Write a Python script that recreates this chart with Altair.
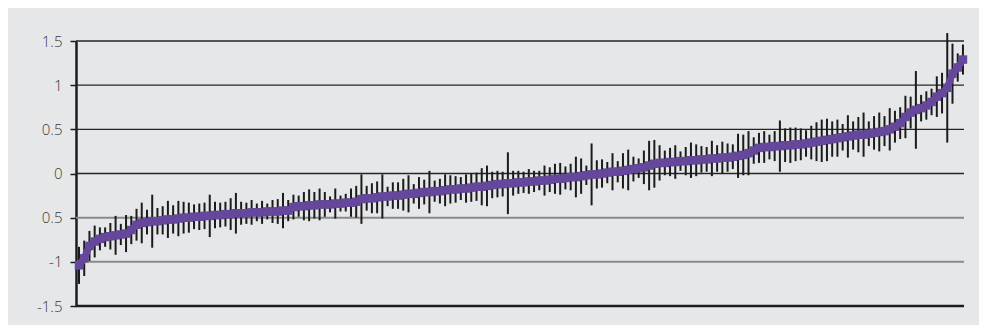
import altair as alt
import pandas as pd

# Sorted estimates (purple line)
means = [
    -1.04, -0.96, -0.82, -0.77, -0.74, -0.72, -0.71, -0.70, -0.69, -0.68,
    -0.64, -0.58, -0.56, -0.55, -0.54, -0.54, -0.53, -0.52, -0.52, -0.51,
    -0.50, -0.50, -0.49, -0.49, -0.48, -0.48, -0.47, -0.47, -0.46, -0.46,
    -0.45, -0.45, -0.45, -0.44, -0.44, -0.44, -0.43, -0.43, -0.43, -0.42,
    -0.42, -0.38, -0.37, -0.37, -0.36, -0.36, -0.35, -0.35, -0.35, -0.34,
    -0.34, -0.33, -0.33, -0.32, -0.29, -0.28, -0.28, -0.27, -0.26, -0.26,
    -0.25, -0.25, -0.24, -0.23, -0.23, -0.22, -0.21, -0.21, -0.20, -0.20,
    -0.19, -0.18, -0.18, -0.17, -0.17, -0.16, -0.15, -0.15, -0.14, -0.13,
    -0.12, -0.12, -0.11, -0.11, -0.10, -0.10, -0.09, -0.09, -0.08, -0.08,
    -0.07, -0.06, -0.06, -0.05, -0.04, -0.04, -0.03, -0.02, -0.01, -0.01,
    0.00, 0.01, 0.02, 0.02, 0.03, 0.04, 0.05, 0.06, 0.07, 0.09,
    0.11, 0.12, 0.12, 0.13, 0.13, 0.14, 0.14, 0.15, 0.15, 0.16,
    0.16, 0.17, 0.17, 0.18, 0.18, 0.19, 0.20, 0.21, 0.23, 0.26,
    0.29, 0.30, 0.30, 0.31, 0.31, 0.32, 0.32, 0.33, 0.33, 0.34,
    0.35, 0.36, 0.37, 0.38, 0.39, 0.40, 0.41, 0.42, 0.43, 0.44,
    0.44, 0.45, 0.46, 0.47, 0.48, 0.50, 0.53, 0.57, 0.64, 0.69,
    0.72, 0.74, 0.77, 0.81, 0.87, 0.91, 0.97, 1.13, 1.20, 1.29,
]

# Half-length of each black error bar
half_widths = [
    0.21, 0.20, 0.17, 0.18, 0.13, 0.11, 0.15, 0.22, 0.12, 0.21,
    0.16, 0.18, 0.23, 0.14, 0.30, 0.15, 0.16, 0.21, 0.16, 0.20,
    0.18, 0.17, 0.14, 0.15, 0.15, 0.24, 0.15, 0.14, 0.14, 0.18,
    0.23, 0.13, 0.12, 0.14, 0.10, 0.13, 0.09, 0.13, 0.14, 0.20,
    0.12, 0.14, 0.12, 0.16, 0.18, 0.15, 0.18, 0.14, 0.09, 0.17,
    0.09, 0.10, 0.16, 0.18, 0.28, 0.14, 0.17, 0.18, 0.25, 0.11,
    0.15, 0.15, 0.18, 0.21, 0.11, 0.18, 0.14, 0.24, 0.12, 0.14,
    0.18, 0.16, 0.15, 0.13, 0.16, 0.16, 0.16, 0.21, 0.23, 0.15,
    0.15, 0.14, 0.35, 0.14, 0.13, 0.12, 0.14, 0.12, 0.11, 0.17,
    0.14, 0.17, 0.18, 0.13, 0.15, 0.23, 0.20, 0.11, 0.35, 0.16,
    0.16, 0.12, 0.21, 0.12, 0.20, 0.23, 0.14, 0.11, 0.19, 0.28,
    0.27, 0.20, 0.14, 0.16, 0.19, 0.11, 0.16, 0.20, 0.18, 0.15,
    0.14, 0.20, 0.15, 0.18, 0.16, 0.14, 0.25, 0.23, 0.25, 0.15,
    0.17, 0.18, 0.14, 0.17, 0.29, 0.19, 0.20, 0.19, 0.18, 0.15,
    0.19, 0.22, 0.24, 0.24, 0.20, 0.21, 0.15, 0.24, 0.16, 0.20,
    0.25, 0.14, 0.19, 0.22, 0.17, 0.24, 0.18, 0.18, 0.24, 0.18,
    0.44, 0.15, 0.16, 0.15, 0.23, 0.23, 0.62, 0.34, 0.16, 0.17,
]

tick_values = [-1.5, -1, -0.5, 0, 0.5, 1, 1.5]
grid_values = [1.5, 1, 0.5, 0, -0.5, -1]
baseline = [-1.5]

n = len(means)
df = pd.DataFrame({
    "i": list(range(n)),
    "m": means,
    "lo": [m - h for m, h in zip(means, half_widths)],
    "hi": [m + h for m, h in zip(means, half_widths)],
})
grid_df = pd.DataFrame({"v": grid_values})
base_df = pd.DataFrame({"v": baseline})

PURPLE = "#65479c"
yscale = alt.Scale(domain=[-1.5, 1.5], nice=False, zero=False)
xscale = alt.Scale(domain=[-0.57, 169.2], nice=False, zero=False)
yaxis = alt.Axis(
    values=tick_values,
    labelExpr="datum.value == -0.5 ? '0.5' : toString(datum.value)",
    grid=False,
    domain=True,
    domainColor="#1c1c1c",
    domainWidth=2.5,
    ticks=True,
    tickSize=6,
    tickColor="#1c1c1c",
    tickWidth=1.5,
    labelFont="Open Sans",
    labelFontWeight=300,
    labelFontSize=15,
    labelColor="#3a3a3a",
    labelPadding=8,
    title=None,
)

grid = alt.Chart(grid_df).mark_rule().encode(
    y=alt.Y("v:Q", scale=yscale, axis=yaxis),
    color=alt.condition(alt.datum.v < 0, alt.value("#8a8a8a"), alt.value("#262626")),
    strokeWidth=alt.condition(alt.datum.v < 0, alt.value(2), alt.value(1.3)),
)

base = alt.Chart(base_df).mark_rule(color="#1c1c1c", strokeWidth=2.6).encode(
    y=alt.Y("v:Q", scale=yscale, axis=yaxis),
)

bars = alt.Chart(df).mark_rule(color="#1b1b1b", strokeWidth=2).encode(
    x=alt.X("i:Q", scale=xscale, axis=None),
    y=alt.Y("lo:Q", scale=yscale, axis=yaxis),
    y2="hi:Q",
)

line = alt.Chart(df).mark_line(color=PURPLE, strokeWidth=7).encode(
    x=alt.X("i:Q", scale=xscale, axis=None),
    y=alt.Y("m:Q", scale=yscale, axis=yaxis),
)

points = alt.Chart(df).mark_square(color=PURPLE, size=72, opacity=1).encode(
    x=alt.X("i:Q", scale=xscale, axis=None),
    y=alt.Y("m:Q", scale=yscale, axis=yaxis),
)

chart = alt.layer(grid, bars, line, points, base).properties(
    width=888,
    height=265,
    background="#e6e7e9",
    padding={"left": 68, "top": 33, "right": 15, "bottom": 19},
    autosize=alt.AutoSizeParams(type="none"),
).configure_view(stroke=None)

chart.save("out.html", embed_options={"renderer": "svg", "actions": False})
